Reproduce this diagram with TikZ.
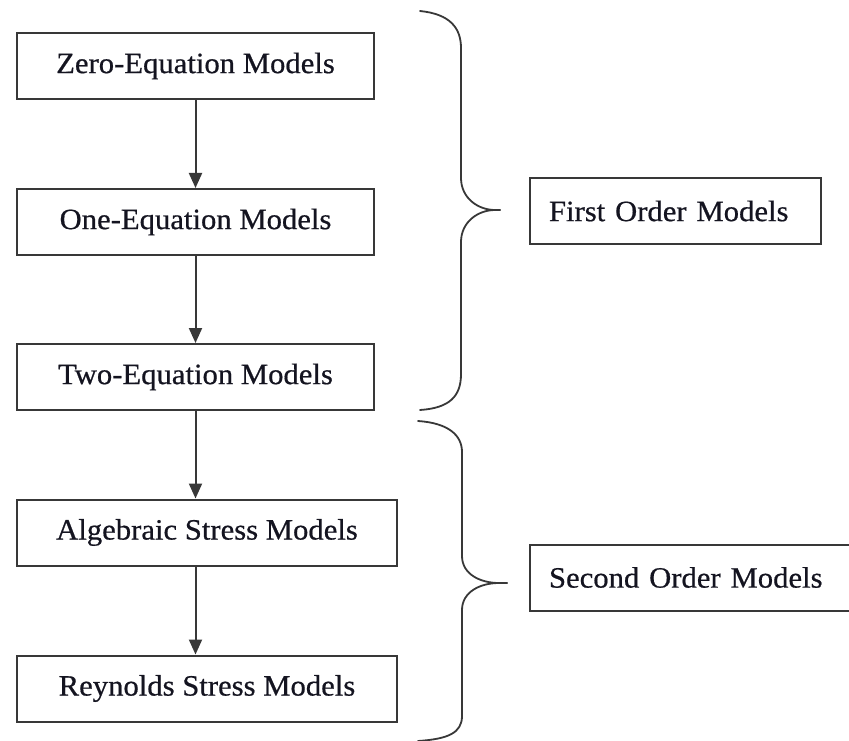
\documentclass[tikz,border=0pt]{standalone}
\usepackage{fontspec}
\setmainfont[FakeStretch=1.04,FakeBold=0.6]{Liberation Serif}
\usetikzlibrary{arrows.meta}
\definecolor{lc}{HTML}{383838}
\definecolor{tc}{HTML}{141420}
\tikzset{
  box/.style={draw=lc, line width=2pt, rectangle, minimum height=66pt, inner sep=0pt, text=tc, font=\fontsize{29.5}{31}\selectfont},
  lbox/.style={box, align=left, inner xsep=19pt, anchor=west},
  flow/.style={draw=lc, line width=2pt, -{Triangle[length=15pt,width=13pt]}},
  brace/.style={draw=lc, line width=1.8pt, line cap=round}
}
\begin{document}
\begin{tikzpicture}[x=1pt,y=-1pt]
\useasboundingbox (0,0) rectangle (849,741);
\clip (0,0) rectangle (849,741);
\node[box, minimum width=357pt] (b1) at (195.5,66) {Zero-Equation Models};
\node[box, minimum width=357pt] (b2) at (195.5,222) {One-Equation Models};
\node[box, minimum width=357pt] (b3) at (195.5,377) {Two-Equation Models};
\node[box, minimum width=380pt] (b4) at (207,532.5) {Algebraic Stress Models};
\node[box, minimum width=380pt] (b5) at (207,688.5) {Reynolds Stress Models};
\node[lbox, text width=253pt] (f) at (529,211) {First Order Models};
\node[lbox, text width=302pt] (s) at (529,577.5) {Second Order Models};
\draw[flow] (b1.south) -- (b2.north);
\draw[flow] (b2.south) -- (b3.north);
\draw[flow] (b3.south -| b1.south) -- (b4.north -| b1.south);
\draw[flow] (b4.south -| b1.south) -- (b5.north -| b1.south);
% first brace
\coordinate (ft) at (500,210);
\draw[brace] (420,11) .. controls (450,14) and (461,28) .. (461,48)
  -- (461,178) .. controls (461,198) and (478,210) .. (495,210) -- (ft);
\draw[brace] (ft) -- (495,210) .. controls (478,210) and (461,222) .. (461,242)
  -- (461,374) .. controls (461,396) and (450,408) .. (420,410);
% second brace
\coordinate (st) at (507,583);
\draw[brace] (418,421) .. controls (448,423) and (462,435) .. (462,452)
  -- (462,556) .. controls (462,574) and (480,583) .. (499,583) -- (st);
\draw[brace] (st) -- (499,583) .. controls (480,583) and (462,592) .. (462,610)
  -- (462,716) .. controls (462,733) and (448,739) .. (418,741);
\end{tikzpicture}
\end{document}
